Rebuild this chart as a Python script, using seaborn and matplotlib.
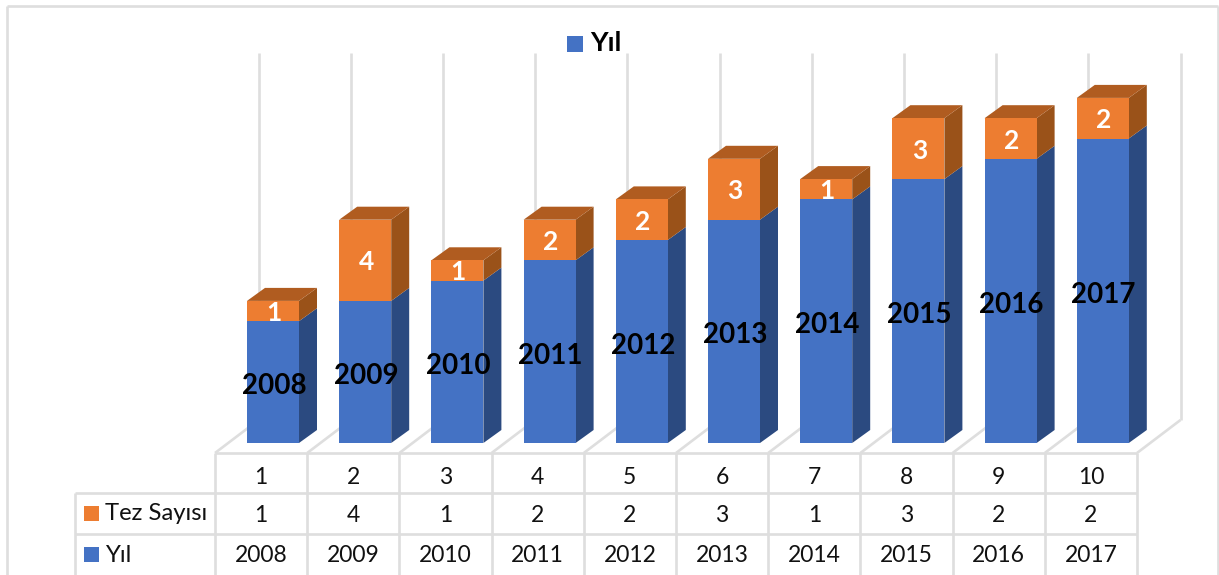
import matplotlib
matplotlib.use("Agg")
import matplotlib.pyplot as plt
from matplotlib.patches import Rectangle
import numpy as np
import pandas as pd
import seaborn as sns

# ---- data ----
row_index = [1, 2, 3, 4, 5, 6, 7, 8, 9, 10]
tez_sayisi = [1, 4, 1, 2, 2, 3, 1, 3, 2, 2]
yil = [2008, 2009, 2010, 2011, 2012, 2013, 2014, 2015, 2016, 2017]
series_tez = "Tez Sayısı"
series_yil = "Yıl"
axis_floor = 2002

# ---- style ----
BLUE, BLUE_SIDE = "#4472C4", "#2B4A80"
ORANGE, ORANGE_SIDE, ORANGE_TOP = "#ED7D31", "#9A5219", "#B05C20"
GRID = "#DEDEDE"
W, H = 1219, 575
FONT = "Lato"

sns.set_theme(style="white")
plt.rcParams["font.family"] = [FONT, "DejaVu Sans"]

df = pd.DataFrame({"idx": row_index, "tez": tez_sayisi, "yil": yil})
df["blue_h"] = df["yil"] - axis_floor
df["total_h"] = df["blue_h"] + df["tez"]

fig = plt.figure(figsize=(W / 100, H / 100), dpi=100, facecolor="white")

# chrome layer, in pixel units: frame, floor, gridlines, table, legend
bg = fig.add_axes([0, 0, 1, 1], zorder=0)
bg.set_xlim(0, W)
bg.set_ylim(H, 0)
bg.axis("off")

def seg(x0, y0, x1, y1, lw=1.9):
    bg.plot([x0, x1], [y0, y1], color=GRID, lw=lw, solid_capstyle="butt")

seg(7, 6, 1218, 6)
seg(7, 6, 7, H)
seg(1218, 6, 1218, H)

COL0, COLW = 215, 92.2
n = len(yil)
for i in range(n + 1):
    cx = COL0 + COLW * i
    seg(cx, 453, cx, H)
    seg(cx, 453, cx + 43.5, 420)
    seg(cx + 43.5, 420, cx + 43.5, 53)
seg(COL0, 453, COL0 + COLW * n, 453)
seg(75, 493, COL0 + COLW * n, 493)
seg(75, 534, COL0 + COLW * n, 534)
seg(75, 493, 75, H)

TABLE_FS = 16.5
for i in range(n):
    cx = COL0 + COLW * (i + 0.5)
    for y, v in zip((478, 515, 556), (row_index[i], tez_sayisi[i], yil[i])):
        bg.text(cx, y, str(v), ha="center", va="center", fontsize=TABLE_FS, color="#111111")

for y, c, label in ((514, ORANGE, series_tez), (555, BLUE, series_yil)):
    bg.add_patch(Rectangle((84, y - 8), 15, 15, color=c, lw=0))
    bg.text(105, y, label, ha="left", va="center", fontsize=17.2, color="#111111")

bg.add_patch(Rectangle((567, 36), 16, 16, color=BLUE, lw=0))
bg.text(590, 43, series_yil, ha="left", va="center", fontsize=19.5, fontweight="bold", color="black")

# bar layer: categorical x, y as units above the axis floor
ax = fig.add_axes([0, 0, 1, 1], zorder=1)
ax.patch.set_alpha(0)
BAR_W = 52 / 92.2
sns.barplot(data=df, x="idx", y="total_h", color=ORANGE, width=BAR_W, saturation=1,
            native_scale=False, ax=ax, zorder=3, linewidth=0)
sns.barplot(data=df, x="idx", y="blue_h", color=BLUE, width=BAR_W, saturation=1,
            native_scale=False, ax=ax, zorder=4, linewidth=0)

PX_X, PX_Y = 92.2, 20.3          # pixels per category / per unit
X0_PX, Y0_PX = 273, 443          # pixel position of the first bar centre and of the floor
ax.set_xlim(-X0_PX / PX_X, (W - X0_PX) / PX_X)
ax.set_ylim((Y0_PX - H) / PX_Y, Y0_PX / PX_Y)
ax.axis("off")

DX, DY = 18 / PX_X, 13 / PX_Y    # depth of the pseudo-3D extrusion
for i, row in enumerate(df.itertuples()):
    r = i + BAR_W / 2
    l = i - BAR_W / 2
    b, t = row.blue_h, row.total_h
    ax.fill([r, r + DX, r + DX, r], [0, DY, b + DY, b], color=BLUE_SIDE, lw=0, zorder=2)
    ax.fill([r, r + DX, r + DX, r], [b, b + DY, t + DY, t], color=ORANGE_SIDE, lw=0, zorder=2)
    ax.fill([l, l + DX, r + DX, r], [t, t + DY, t + DY, t], color=ORANGE_TOP, lw=0, zorder=2)
    ax.text(i + 0.01, b / 2 - 0.2, str(row.yil), ha="center", va="center", fontsize=20,
            fontweight="bold", color="black", zorder=6)
    ax.text(i + 0.01, b + row.tez / 2 - 0.1, str(row.tez), ha="center", va="center", fontsize=19,
            fontweight="bold", color="white", zorder=6)

fig.savefig("out.png", dpi=100, facecolor="white")
